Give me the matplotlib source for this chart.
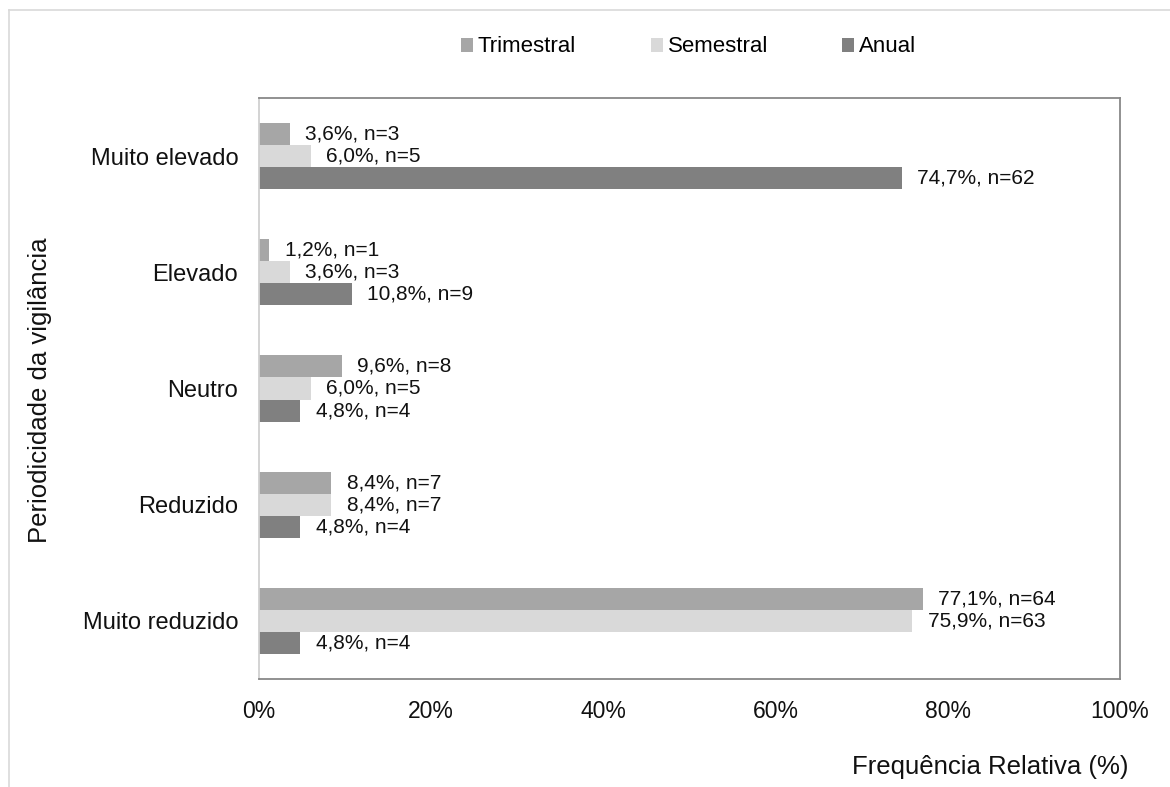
import matplotlib
matplotlib.use("Agg")
import matplotlib.pyplot as plt
import numpy as np
from matplotlib.lines import Line2D

plt.rcParams['font.family'] = ['Liberation Sans', 'DejaVu Sans']

categories = ["Muito elevado", "Elevado", "Neutro", "Reduzido", "Muito reduzido"]
series_names = ["Trimestral", "Semestral", "Anual"]
trimestral = [3.6, 1.2, 9.6, 8.4, 77.1]
trimestral_n = [3, 1, 8, 7, 64]
semestral = [6.0, 3.6, 6.0, 8.4, 75.9]
semestral_n = [5, 3, 5, 7, 63]
anual = [74.7, 10.8, 4.8, 4.8, 4.8]
anual_n = [62, 9, 4, 4, 4]
xticks = [0, 20, 40, 60, 80, 100]
xtick_labels = ["0%", "20%", "40%", "60%", "80%", "100%"]

colors = ["#a6a6a6", "#d9d9d9", "#808080"]

fig = plt.figure(figsize=(11.7, 7.87), dpi=100)
W, H = 1170, 787
ax = fig.add_axes([259 / W, 1 - 679 / H, (1120 - 259) / W, (679 - 98) / H])

# figure border (partial, light)
fig.add_artist(Line2D([9 / W, 1.0], [1 - 10 / H, 1 - 10 / H], color="#d9d9d9", lw=1.2, transform=fig.transFigure))
fig.add_artist(Line2D([9 / W, 9 / W], [0, 1 - 10 / H], color="#d9d9d9", lw=1.2, transform=fig.transFigure))

n_cat = len(categories)
ypos = np.arange(n_cat)
bar_h = 0.19
vals = [trimestral, semestral, anual]
ns = [trimestral_n, semestral_n, anual_n]
handles = []
for i, (v, nn, c, name) in enumerate(zip(vals, ns, colors, series_names)):
    y = ypos + (i - 1) * bar_h
    bc = ax.barh(y, v, height=bar_h, color=c, label=name, zorder=2)
    handles.append(bc)
    for yy, val, n in zip(y, v, nn):
        lab = f"{val:.1f}".replace(".", ",") + f"%, n={n}"
        ax.annotate(lab, xy=(val, yy), xytext=(11, 0), textcoords="offset points",
                    va="center", ha="left", fontsize=15, color="#111111")

ax.set_ylim(n_cat - 0.5, -0.5)
ax.set_xlim(0, 100)
ax.set_yticks(ypos)
ax.set_yticklabels(categories, fontsize=17, color="#111111")
ax.set_xticks(xticks)
ax.set_xticklabels(xtick_labels, fontsize=16.5, color="#111111")
ax.tick_params(axis="both", length=0)
ax.tick_params(axis="y", pad=15)
ax.tick_params(axis="x", pad=15)

for s in ["top", "right", "bottom"]:
    ax.spines[s].set_color("#888888")
    ax.spines[s].set_linewidth(1.3)
ax.spines["left"].set_color("#d0d0d0")
ax.spines["left"].set_linewidth(1.3)

fig.text(40 / W, 1 - 390 / H, "Periodicidade da vigilância", rotation=90,
         ha="center", va="center", fontsize=18.5, color="#111111")
fig.text(1128 / W, 1 - 767 / H, "Frequência Relativa (%)", ha="right",
         va="center", fontsize=18.5, color="#111111")

legend_x = [461, 651, 842]
for h, name, lx in zip(handles, series_names, legend_x):
    lg = fig.legend([h], [name], loc="center left", bbox_to_anchor=(lx / W, 1 - 47 / H),
                    frameon=False, fontsize=16, handlelength=0.54, handleheight=0.58,
                    handletextpad=0.22, borderpad=0, borderaxespad=0)

fig.savefig("out.png", dpi=100)
